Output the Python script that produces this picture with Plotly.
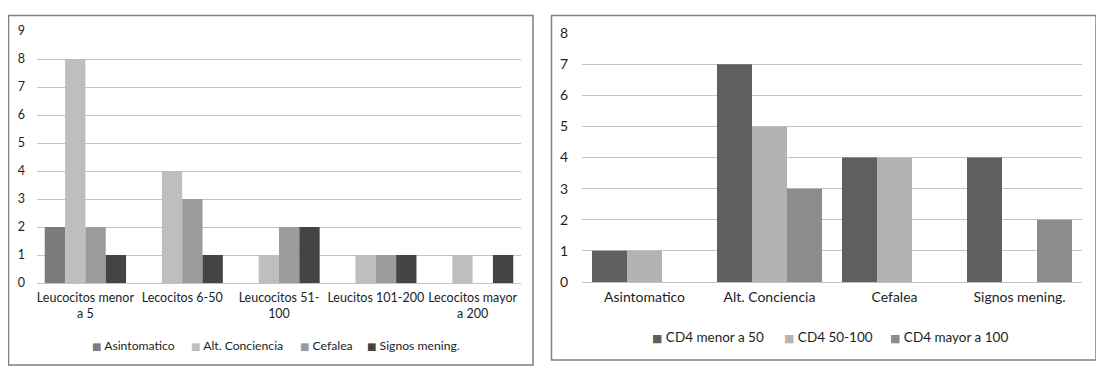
import plotly.graph_objects as go

# ---- Left chart data ----
left_categories = ["Leucocitos menor<br>a 5", "Lecocitos 6-50", "Leucocitos 51-<br>100",
                   "Leucitos 101-200", "Lecocitos mayor<br>a 200"]
left_series = ["Asintomatico", "Alt. Conciencia", "Cefalea", "Signos mening."]
left_asintomatico = [2, 0, 0, 0, 0]
left_alt_conciencia = [8, 4, 1, 1, 1]
left_cefalea = [2, 3, 2, 1, 0]
left_signos = [1, 1, 2, 1, 1]
left_colors = ["#7b7b7b", "#bebebe", "#9b9b9b", "#444444"]
left_ticks = list(range(0, 10))

# ---- Right chart data ----
right_categories = ["Asintomatico", "Alt. Conciencia", "Cefalea", "Signos mening."]
right_series = ["CD4 menor a 50", "CD4 50-100", "CD4 mayor a 100"]
right_menor50 = [1, 7, 4, 4]
right_50_100 = [1, 5, 4, 0]
right_mayor100 = [0, 3, 0, 2]
right_colors = ["#5f5f5f", "#b3b3b3", "#8c8c8c"]
right_ticks = list(range(0, 9))

# page body has an 8px default margin; figure sized to fit the 1104x376 window
OFF = 8
W, H = 1104 - OFF, 376 - OFF
FONT = "Lato"

def px_x(x):
    return (x - OFF) / W

def px_y(y):
    return 1 - (y - OFF) / H

# legend entry start positions (window pixels, left edge of the square) and centers
left_leg_x = [90, 189, 298, 365]
right_leg_x = [650, 782, 888]
LEFT_LEG_Y, RIGHT_LEG_Y = 345, 337

fig = go.Figure()
annotations = []

left_values = [left_asintomatico, left_alt_conciencia, left_cefalea, left_signos]
for name, vals, col, lx in zip(left_series, left_values, left_colors, left_leg_x):
    fig.add_trace(go.Bar(x=left_categories, y=vals, name=name, marker_color=col,
                         marker_line_width=0, xaxis="x", yaxis="y", showlegend=False))
    annotations.append(dict(
        xref="paper", yref="paper", x=px_x(lx), y=px_y(LEFT_LEG_Y),
        xanchor="left", yanchor="middle", showarrow=False,
        text=f"<span style='color:{col};font-family:DejaVu Sans;font-size:10px'>■</span> {name}",
        font=dict(size=12.2)))

right_values = [right_menor50, right_50_100, right_mayor100]
for name, vals, col, lx in zip(right_series, right_values, right_colors, right_leg_x):
    fig.add_trace(go.Bar(x=right_categories, y=vals, name=name, marker_color=col,
                         marker_line_width=0, xaxis="x2", yaxis="y2", showlegend=False))
    annotations.append(dict(
        xref="paper", yref="paper", x=px_x(lx), y=px_y(RIGHT_LEG_Y),
        xanchor="left", yanchor="middle", showarrow=False,
        text=f"<span style='color:{col};font-family:DejaVu Sans;font-size:11px'>■</span> {name}",
        font=dict(size=13.5)))

grid = "#c4c4c4"
fig.update_layout(
    width=W, height=H, autosize=False,
    margin=dict(l=0, r=0, t=0, b=0, pad=0, autoexpand=False),
    paper_bgcolor="white", plot_bgcolor="white",
    font=dict(family=FONT, color="#1e1e1e"),
    barmode="group", bargap=0.16, bargroupgap=0,
    showlegend=False,
    xaxis=dict(domain=[px_x(37), px_x(521)], anchor="y", showgrid=False, automargin=False,
               showline=False, ticks="", tickfont=dict(size=12.5), tickangle=0,
               ticklabelstandoff=5),
    yaxis=dict(domain=[px_y(283), px_y(31)], anchor="x", range=[0, 9], automargin=False,
               tickvals=left_ticks, showgrid=True, gridcolor=grid, gridwidth=1,
               zeroline=True, zerolinecolor=grid, zerolinewidth=1,
               showline=False, ticks="", tickfont=dict(size=12.5), ticklabelstandoff=11),
    xaxis2=dict(domain=[px_x(582), px_x(1082)], anchor="y2", showgrid=False, automargin=False,
                showline=False, ticks="", tickfont=dict(size=14), tickangle=0,
                ticklabelstandoff=5),
    yaxis2=dict(domain=[px_y(282), px_y(33)], anchor="x2", range=[0, 8], automargin=False,
                tickvals=right_ticks, showgrid=True, gridcolor=grid, gridwidth=1,
                zeroline=True, zerolinecolor=grid, zerolinewidth=1,
                showline=False, ticks="", tickfont=dict(size=14), ticklabelstandoff=13),
    annotations=annotations,
    shapes=[
        dict(type="rect", xref="paper", yref="paper",
             x0=px_x(8.5), x1=px_x(533), y0=px_y(365), y1=px_y(15.5),
             line=dict(color="#7f7f7f", width=1.5), fillcolor="rgba(0,0,0,0)"),
        dict(type="rect", xref="paper", yref="paper",
             x0=px_x(551.5), x1=px_x(1096), y0=px_y(360), y1=px_y(15.5),
             line=dict(color="#7f7f7f", width=1.5), fillcolor="rgba(0,0,0,0)"),
    ],
)

fig.write_html("out.html")
